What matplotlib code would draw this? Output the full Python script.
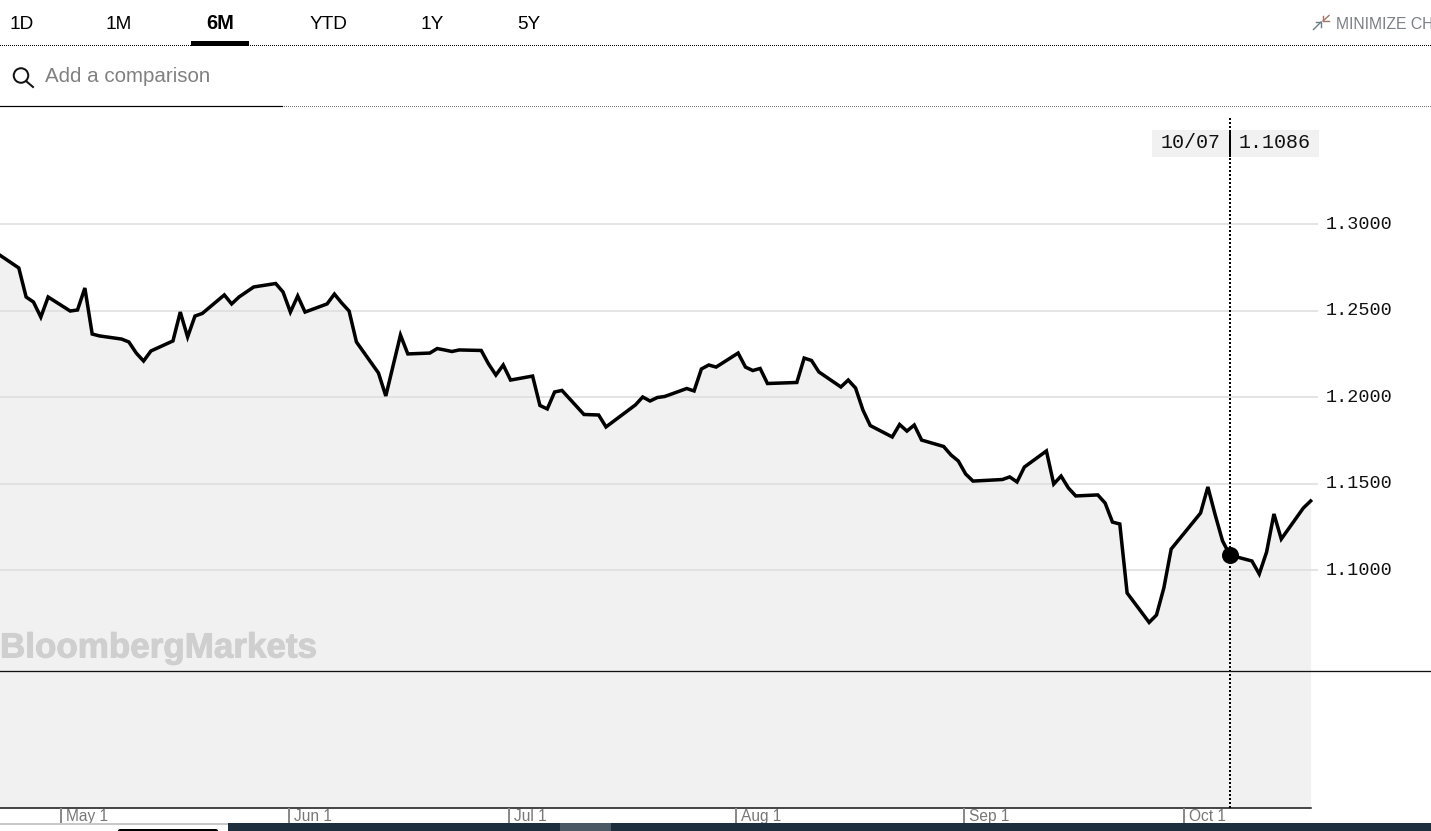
import matplotlib
matplotlib.use("Agg")
import matplotlib.pyplot as plt
import matplotlib.patches as mp
import matplotlib.patheffects as pe
from matplotlib.lines import Line2D
from matplotlib.transforms import ScaledTranslation
import pandas as pd

W, H = 1431, 831

dates = [
 "04-22","04-25","04-26","04-27","04-28","04-29","05-02","05-03","05-04","05-05","05-06",
 "05-09","05-10","05-11","05-12","05-13","05-16","05-17","05-18","05-19","05-20",
 "05-23","05-24","05-25","05-27","05-30","05-31","06-01","06-02","06-03",
 "06-06","06-07","06-08","06-09","06-10","06-13","06-14","06-16","06-17",
 "06-20","06-21","06-22","06-23","06-24","06-27","06-28","06-29","06-30","07-01",
 "07-04","07-05","07-06","07-07","07-08","07-11","07-13","07-14","07-18","07-19",
 "07-20","07-21","07-22","07-25","07-26","07-27","07-28","07-29",
 "08-01","08-02","08-03","08-04","08-05","08-09","08-10","08-11","08-12",
 "08-15","08-16","08-17","08-18","08-19","08-22","08-23","08-24","08-25","08-26",
 "08-29","08-30","08-31","09-01","09-02","09-06","09-07","09-08","09-09",
 "09-12","09-13","09-14","09-15","09-16","09-19","09-20","09-21","09-22","09-23",
 "09-26","09-27","09-28","09-29","10-03","10-04","10-05","10-06","10-07",
 "10-10","10-11","10-12","10-13","10-14","10-17","10-18",
]
values = [
 1.2832,1.2746,1.2578,1.2549,1.2462,1.2578,1.2497,1.2503,1.2630,1.2364,1.2353,
 1.2335,1.2318,1.2254,1.2208,1.2266,1.2324,1.2491,1.2347,1.2468,1.2483,
 1.2590,1.2538,1.2578,1.2636,1.2656,1.2607,1.2491,1.2584,1.2491,
 1.2538,1.2595,1.2543,1.2497,1.2318,1.2139,1.2006,1.2358,1.2249,
 1.2254,1.2280,1.2272,1.2263,1.2272,1.2269,1.2191,1.2127,1.2185,1.2098,
 1.2121,1.1951,1.1931,1.2029,1.2038,1.1899,1.1896,1.1827,1.1954,1.2000,
 1.1977,1.1997,1.2003,1.2049,1.2035,1.2162,1.2185,1.2173,
 1.2254,1.2173,1.2153,1.2165,1.2078,1.2084,1.2225,1.2211,1.2145,
 1.2058,1.2098,1.2052,1.1925,1.1835,1.1769,1.1841,1.1803,1.1838,1.1751,
 1.1714,1.1665,1.1630,1.1555,1.1514,1.1523,1.1538,1.1509,1.1595,
 1.1688,1.1497,1.1543,1.1474,1.1428,1.1434,1.1387,1.1277,1.1266,1.0867,
 1.0697,1.0740,1.0896,1.1121,1.1329,1.1480,1.1318,1.1168,1.1086,
 1.1052,1.0977,1.1104,1.1324,1.1179,1.1358,1.1399,
]
y_ticks = [1.30, 1.25, 1.20, 1.15, 1.10]
y_labels = ["1.3000", "1.2500", "1.2000", "1.1500", "1.1000"]
x_tick_dates = ["2022-05-01", "2022-06-01", "2022-07-01", "2022-08-01", "2022-09-01", "2022-10-01"]
x_labels = ["May 1", "Jun 1", "Jul 1", "Aug 1", "Sep 1", "Oct 1"]
tabs = ["1D", "1M", "6M", "YTD", "1Y", "5Y"]
selected_date = "2022-10-07"
selected_value = 1.1086
selected_label = "10/07"
selected_text = "1.1086"

SANS = "Liberation Sans"
MONO = "Liberation Mono"
GREY = "#f1f1f1"
px = lambda n: n * 0.72  # pixels to points at dpi 100

fig = plt.figure(figsize=(W / 100, H / 100), dpi=100, facecolor="white")

# plot area in picture pixels
L, R, T, B = 0, 1311, 107, 808
ax = fig.add_axes([L / W, 1 - B / H, (R - L) / W, (B - T) / H])
shift = pd.Timedelta(hours=6)
x = pd.to_datetime(["2022-" + d for d in dates]) + shift
t0 = pd.Timestamp("2022-05-01")
per_day = 7.34
ax.set_xlim(t0 + pd.Timedelta(days=(L - 61) / per_day), t0 + pd.Timedelta(days=(R - 61) / per_day))
per_unit = 1730
ax.set_ylim(1.30 - (B - 224) / per_unit, 1.30 + (224 - T) / per_unit)

ax.fill_between(x, values, ax.get_ylim()[0], color=GREY, lw=0, zorder=1)
ax.set_yticks(y_ticks, y_labels, family=MONO, fontsize=px(18.5), color="#111111")
ax.yaxis.tick_right()
ax.tick_params(axis="y", length=px(7), width=px(1.5), color="#dcdcdc", pad=px(8))
up = ScaledTranslation(0, 2 / 100, fig.dpi_scale_trans)
for lab in ax.get_yticklabels():
    lab.set_transform(lab.get_transform() + up)
ax.grid(axis="y", color="#dcdcdc", lw=px(1.5), zorder=2)
ax.set_axisbelow(False)
ax.plot(x, values, color="black", lw=px(3.5), solid_joinstyle="miter", zorder=4, clip_on=False)

sel = pd.Timestamp(selected_date) + shift
ax.plot([sel, sel], [ax.get_ylim()[0], 1.30 + (224 - 116) / per_unit], color="black",
        lw=px(2), ls=(0, (1, 1)), zorder=3)
ax.plot([sel], [selected_value], "o", color="black", ms=px(17), mew=0, zorder=5)

for s in ["top", "left", "right"]:
    ax.spines[s].set_visible(False)
ax.spines["bottom"].set_color("#111111")
ax.spines["bottom"].set_linewidth(px(1.5))
ax.set_xticks(pd.to_datetime(x_tick_dates), x_labels, family=SANS, fontsize=px(15.5), color="#777777")
ax.tick_params(axis="x", length=px(15), width=px(2), color="#8a8a8a", pad=px(-1.5))
off = ScaledTranslation(5 / 100, 0.4 / 100, fig.dpi_scale_trans)
for lab in ax.get_xticklabels():
    lab.set_ha("left")
    lab.set_va("baseline")
    lab.set_transform(lab.get_transform() + off)


# page furniture, placed in picture pixels
def fx(a):
    return a / W


def fy(a):
    return 1 - a / H


def hline(x0, x1, y, **kw):
    line = Line2D([fx(x0), fx(x1)], [fy(y), fy(y)], **kw)
    line.set_snap(kw.get("ls") is None)
    fig.add_artist(line)


def rect(x0, y0, x1, y1, color, z=6):
    fig.add_artist(mp.Rectangle((fx(x0), fy(y1)), (x1 - x0) / W, (y1 - y0) / H, color=color, lw=0, zorder=z))


tab_x = [21.5, 119, 220, 328, 432, 529]
for t, xp in zip(tabs, tab_x):
    fig.text(fx(xp), fy(29), t, family=SANS, fontsize=px(20 if t == "6M" else 19), ha="center", va="baseline",
             color="black", fontweight="bold" if t == "6M" else "normal")
hline(0, W, 45.5, color="black", lw=px(1), ls=(0, (1, 1)))
rect(191, 41, 249, 45.5, "black")

fig.text(fx(45), fy(77), "Add a comparison", family=SANS, fontsize=px(20.5), ha="left", va="center", color="#808080")
fig.add_artist(mp.Ellipse((fx(21), fy(75.5)), 14.5 / W, 14.5 / H, fill=False, ec="#111111", lw=px(2)))
fig.add_artist(Line2D([fx(26), fx(33)], [fy(81), fy(87)], color="#111111", lw=px(2)))
hline(0, W, 106.5, color="#777777", lw=px(1), ls=(0, (1, 1)))
hline(0, 282, 105.5, color="black", lw=px(1.2))

fig.text(fx(1336), fy(29), "MINIMIZE CH", family=SANS, fontsize=px(15.8), ha="left", va="baseline", color="#7b7f86")
icon = [
    ([1313.5, 1321], [29.5, 22], "#6f7c88"),
    ([1316, 1321, 1321], [22, 22, 27], "#6f7c88"),
    ([1329, 1323], [15.5, 21], "#a5776a"),
    ([1323, 1323, 1329], [15.5, 21, 21], "#a5776a"),
]
for xs, ys, c in icon:
    fig.add_artist(Line2D([fx(v) for v in xs], [fy(v) for v in ys], color=c, lw=px(1.4)))

# readout box
rect(1152, 130, 1319, 157, GREY, z=2)
rect(1229, 130, 1230.5, 157, "black", z=7)
fig.text(fx(1161), fy(143), selected_label, family=MONO, fontsize=px(20), ha="left", va="center", color="#111111")
fig.text(fx(1239), fy(143), selected_text, family=MONO, fontsize=px(20), ha="left", va="center", color="#111111")

# watermark and panel separator
fig.text(fx(0), fy(648), "BloombergMarkets", family=SANS, fontweight="bold", fontsize=px(35),
         ha="left", va="center", color="#cfcfcf",
         path_effects=[pe.withStroke(linewidth=px(1), foreground="#cfcfcf")])
hline(0, W, 670.5, color="#111111", lw=px(1.3))

# strip along the foot of the page
rect(0, 823, 228, 831, "white", z=8)
rect(0, 823, 228, 824.5, "#c8c8c8", z=9)
fig.add_artist(mp.FancyBboxPatch((fx(118), fy(834)), 100 / W, 5 / H, boxstyle="round,pad=0,rounding_size=0.002",
                                 fc="black", ec="black", lw=0, zorder=9))
rect(228, 823, W, 831, "#1d2f3d", z=8)
rect(560, 823, 611, 831, "#4a5963", z=9)

fig.savefig("out.png", dpi=100, facecolor="white")
